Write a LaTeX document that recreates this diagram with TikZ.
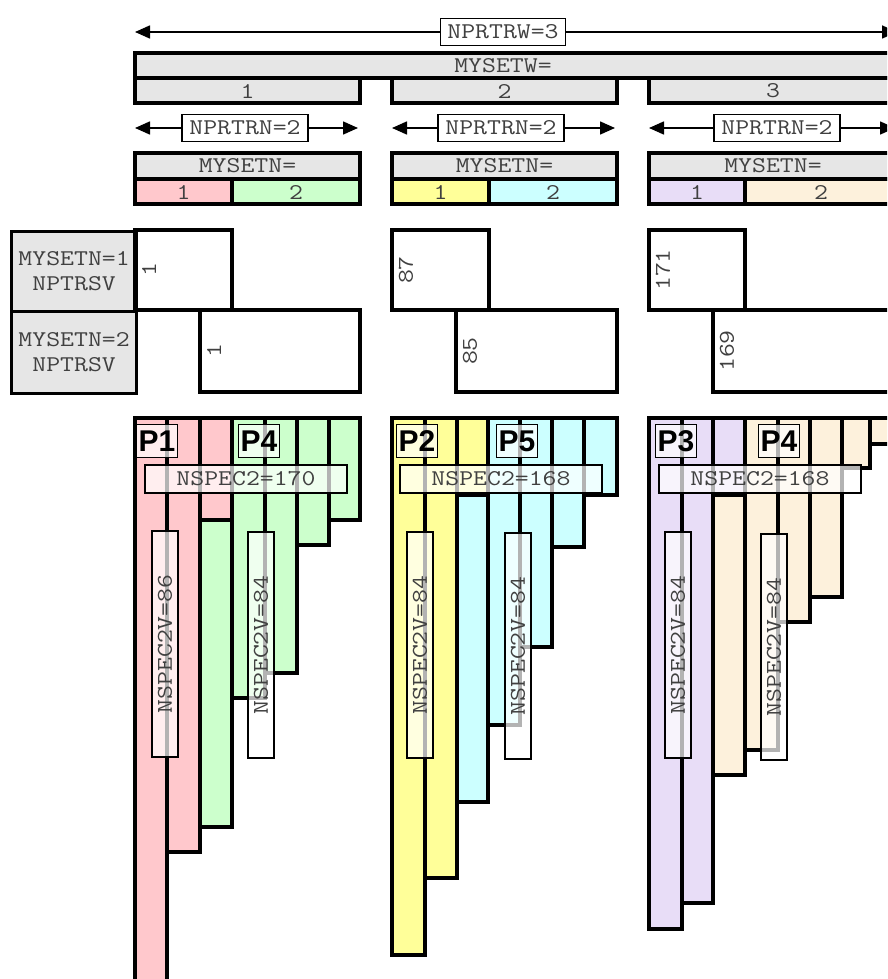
\documentclass[tikz,border=0pt]{standalone}
\usepackage{fontspec}
\usepackage{tikz}
\usetikzlibrary{arrows.meta}

\newfontfamily\codefont[FakeStretch=1.2]{Latin Modern Mono}
\newfontfamily\procfont{Liberation Sans}

\definecolor{hdrgray}{HTML}{E6E6E6}
\definecolor{setpink}{HTML}{FFC8CC}
\definecolor{setgreen}{HTML}{CCFFCC}
\definecolor{setyellow}{HTML}{FFFF99}
\definecolor{setcyan}{HTML}{CCFFFF}
\definecolor{setlilac}{HTML}{E8DDF7}
\definecolor{setcream}{HTML}{FDF1DC}

\tikzset{
  code/.style={font=\codefont\fontsize{22.5}{25}\selectfont, text=black!75},
  hdrbox/.style={draw, line width=3.2pt, fill=hdrgray},
  cellbox/.style={draw, line width=3.2pt},
  bar/.style={draw, line width=3.2pt},
  spanarrow/.style={{Triangle[length=15pt,width=13pt]}-{Triangle[length=15pt,width=13pt]}, line width=1.6pt},
  countlbl/.style={code, draw, fill=white, line width=1.5pt, inner sep=0pt, minimum height=27pt},
  proclbl/.style={font=\procfont\bfseries\fontsize{30}{32}\selectfont, draw, line width=1.5pt,
    fill=white, fill opacity=0.7, text opacity=1, inner sep=2pt, minimum height=33pt},
  speclbl/.style={code, draw, line width=1.5pt, fill=white, fill opacity=0.7, text opacity=1,
    inner sep=0pt, minimum width=202pt, minimum height=28pt},
  vspeclbl/.style={code, draw, line width=1.5pt, fill=white, fill opacity=0.7, text opacity=1,
    inner sep=0pt, rotate=90, minimum width=226pt, minimum height=26pt},
}

\begin{document}
\begin{tikzpicture}[x=1pt,y=-1pt]
\clip (0,0) rectangle (887,979);

% processor rows
\coordinate (wl) at (135,32);
\coordinate (wr) at (897,32);
\draw[spanarrow] (wl) -- (wr);
\node[countlbl, minimum width=125pt] (nprtrw) at (503,32) {NPRTRW=3};

\draw[hdrbox] (135,53) rectangle (900,78);
\node[code] (mysetw) at (503,66) {MYSETW=};

\foreach \c/\xa/\xm/\xb/\xl/\ca/\cb in {1/135/232/360/245/setpink/setgreen,
    2/392/489/617/501/setyellow/setcyan, 3/649/745/897/777/setlilac/setcream}{
  \draw[hdrbox] (\xa,78) rectangle (\xb,103);
  \node[code] (w\c) at ({(\xa+\xb)/2},91) {\c};
  \coordinate (nl\c) at (\xa,128);
  \coordinate (nr\c) at (\xb-2,128);
  \draw[spanarrow] (nl\c) -- (nr\c);
  \node[countlbl, minimum width=126pt] (nprtrn\c) at (\xl,128) {NPRTRN=2};
  \draw[hdrbox] (\xa,153) rectangle (\xb,179);
  \node[code] (mysetn\c) at ({(\xa+\xb)/2},166) {MYSETN=};
  \draw[cellbox, fill=\ca] (\xa,179) rectangle (\xm,204);
  \draw[cellbox, fill=\cb] (\xm,179) rectangle (\xb,204);
  \node[code] (sa\c) at ({(\xa+\xm)/2},192) {1};
  \node[code] (sb\c) at ({(\xm+\xb)/2},192) {2};
}

% first spectral row per set
\node[hdrbox, code, align=center, anchor=north west, minimum width=125pt, minimum height=80pt]
  (row1) at (10,230) {MYSETN=1\\NPTRSV};
\node[hdrbox, code, align=center, anchor=north west, minimum width=125pt, minimum height=82pt]
  (row2) at (10,310) {MYSETN=2\\NPTRSV};

\foreach \c/\xa/\xm/\xc/\xb/\va/\vb in {1/135/232/200/360/1/1,
    2/392/489/456/617/87/85, 3/649/745/713/900/171/169}{
  \draw[cellbox] (\xa,230) rectangle (\xm,310);
  \draw[cellbox] (\xc,310) rectangle (\xb,392);
  \node[code, rotate=90] (ra\c) at (\xa+14,270) {\va};
  \node[code, rotate=90] (rb\c) at (\xc+14,351) {\vb};
}

% spectral columns
\foreach \xa/\xb/\ya/\yb/\col in {
    135/167/418/990/setpink, 167/200/418/852/setpink, 200/232/418/520/setpink,
    200/232/520/827/setgreen, 232/265/418/698/setgreen, 265/297/418/673/setgreen,
    297/329/418/545/setgreen, 329/360/418/520/setgreen,
    392/425/418/955/setyellow, 425/457/418/878/setyellow, 457/488/418/495/setyellow,
    457/488/495/802/setcyan, 488/520/418/725/setcyan, 520/552/418/647/setcyan,
    552/584/418/547/setcyan, 584/617/418/495/setcyan,
    649/682/418/929/setlilac, 682/713/418/903/setlilac, 713/745/418/495/setlilac,
    713/745/495/775/setcream, 745/778/418/750/setcream, 778/810/418/622/setcream,
    810/842/418/597/setcream, 842/870/418/468/setcream, 870/902/418/444/setcream}
  \draw[bar, fill=\col] (\xa,\ya) rectangle (\xb,\yb);

\node[proclbl] (p1) at (157,441) {P1};
\node[proclbl] (p4a) at (259,441) {P4};
\node[proclbl] (p2) at (417,441) {P2};
\node[proclbl] (p5) at (517,441) {P5};
\node[proclbl] (p3) at (676,441) {P3};
\node[proclbl] (p4b) at (779,441) {P4};

\node[speclbl] (nspec1) at (246,479) {NSPEC2=170};
\node[speclbl] (nspec2) at (501,479) {NSPEC2=168};
\node[speclbl] (nspec3) at (760,479) {NSPEC2=168};

\node[vspeclbl] (nv1a) at (165,644) {NSPEC2V=86};
\node[vspeclbl] (nv1b) at (261,645) {NSPEC2V=84};
\node[vspeclbl] (nv2a) at (420,645) {NSPEC2V=84};
\node[vspeclbl] (nv2b) at (518,646) {NSPEC2V=84};
\node[vspeclbl] (nv3a) at (678,645) {NSPEC2V=84};
\node[vspeclbl] (nv3b) at (774,647) {NSPEC2V=84};
\end{tikzpicture}
\end{document}
